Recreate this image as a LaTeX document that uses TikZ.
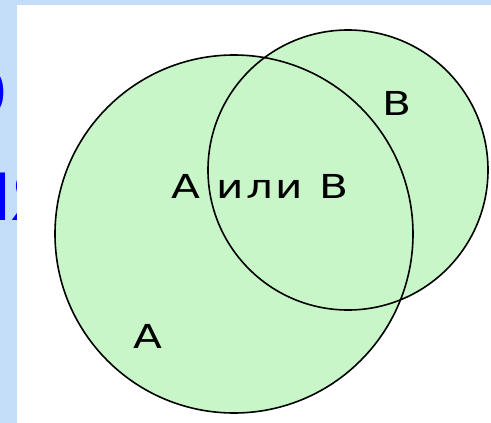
\documentclass[tikz,border=0pt]{standalone}
\usepackage{fontspec}
\newfontfamily\lblfont[LetterSpace=6]{DejaVu Sans}
\newfontfamily\bluefont{Liberation Sans}
\definecolor{slidebg}{RGB}{196,222,250}
\definecolor{vennfill}{RGB}{200,246,200}
\definecolor{slideblue}{RGB}{0,0,255}
\tikzset{
  bluetxt/.style={inner sep=0pt, text=slideblue, font=\bluefont\fontsize{90}{100}\selectfont},
  setlabel/.style={inner sep=0pt, text=black, xscale=1.28, font=\lblfont\fontsize{33}{40}\selectfont},
  setline/.style={draw=black, line width=1.6pt, circle, inner sep=0pt},
}
\begin{document}
\begin{tikzpicture}[x=1pt,y=-1pt]
\useasboundingbox (0,0) rectangle (491,423);
\clip (0,0) rectangle (491,423);
\fill[slidebg] (0,0) rectangle (491,423);
\node[bluetxt, anchor=base east] (t1) at (8,116) {о};
\node[bluetxt, anchor=base west] (t2) at (-39,220) {ия};
\fill[white] (17,5) rectangle (491,423);
% fills
\fill[vennfill] (234,234) circle[radius=179pt];
\fill[vennfill] (348,170) circle[radius=140pt];
% outlines
\node[setline, minimum size=358pt] (setA) at (234,234) {};
\node[setline, minimum size=280pt] (setB) at (348,170) {};
% labels
\node[setlabel, anchor=base] (lblAB) at (260,198) {A или B};
\node[setlabel, anchor=base] (lblA) at (147.5,348) {A};
\node[setlabel, anchor=base] (lblB) at (396.5,115) {B};
\end{tikzpicture}
\end{document}
